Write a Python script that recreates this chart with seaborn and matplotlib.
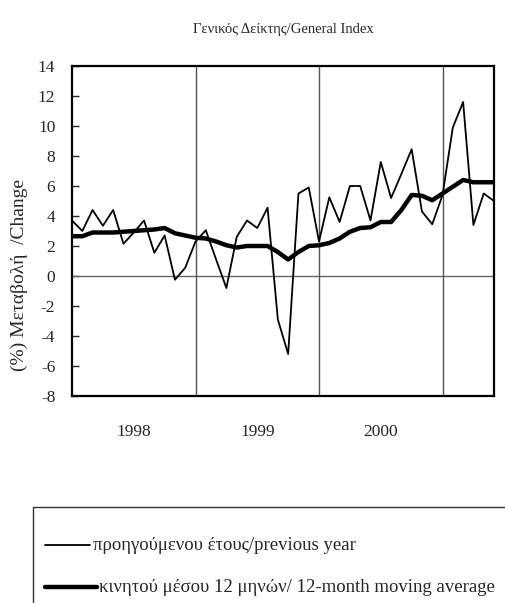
import numpy as np
import pandas as pd
import matplotlib
matplotlib.use("Agg")
import matplotlib.pyplot as plt
import seaborn as sns
from matplotlib.lines import Line2D
from matplotlib.patches import Rectangle

# ---- data (monthly, Jan 1998 - Jun 2001) ----
yoy_change = [3.7, 3.0, 4.4, 3.35, 4.4, 2.15, 2.9, 3.7, 1.55, 2.7, -0.25, 0.55,
              2.3, 3.05, 1.1, -0.8, 2.6, 3.7, 3.2, 4.55, -2.9, -5.2, 5.5, 5.9,
              2.3, 5.25, 3.6, 6.0, 6.0, 3.7, 7.6, 5.2, 6.8, 8.45, 4.3, 3.45,
              5.4, 9.9, 11.6, 3.4, 5.5, 5.0]
moving_avg = [2.65, 2.65, 2.9, 2.9, 2.9, 2.95, 3.0, 3.05, 3.1, 3.2, 2.85, 2.7,
              2.55, 2.5, 2.3, 2.05, 1.9, 2.0, 2.0, 2.0, 1.6, 1.1, 1.6, 2.0,
              2.05, 2.2, 2.5, 2.95, 3.2, 3.25, 3.6, 3.6, 4.4, 5.4, 5.35, 5.05,
              5.5, 5.95, 6.4, 6.25, 6.25, 6.25]
year_labels = ["1998", "1999", "2000"]
year_boundaries = [12, 24, 36]
y_ticks = list(range(-8, 15, 2))

title = "Γενικός Δείκτης/General Index"
ylabel = "(%) Μεταβολή  /Change"
label_yoy = "προηγούμενου έτους/previous year"
label_ma = "κινητού μέσου 12 μηνών/ 12-month moving average"

month_idx = np.arange(len(yoy_change))
df = pd.DataFrame({"month": month_idx, "yoy": yoy_change, "ma": moving_avg})

sns.set_style("white")
plt.rcParams["font.family"] = ["Liberation Serif", "DejaVu Serif"]

W, H = 505, 603
fig = plt.figure(figsize=(W / 100, H / 100), dpi=100)
ax = fig.add_axes([72 / W, 1 - 396 / H, (494 - 72) / W, (396 - 66) / H])

# reference lines
ax.axhline(0, color="#666666", lw=1.0, zorder=1)
for b in year_boundaries:
    ax.axvline(b, color="#555555", lw=1.0, zorder=1)

sns.lineplot(data=df, x="month", y="yoy", ax=ax, color="black", lw=1.3, zorder=3)
sns.lineplot(data=df, x="month", y="ma", ax=ax, color="black", lw=3.2, zorder=4)

ax.set_xlim(0, len(yoy_change) - 1)
ax.set_ylim(-8, 14)
ax.set_yticks(y_ticks)
ax.set_yticklabels([str(t) for t in y_ticks], fontsize=12.5)
ax.set_xticks([6, 18, 30])
ax.set_xticklabels(year_labels, fontsize=12.5)
ax.tick_params(axis="x", length=0, pad=20)
ax.tick_params(axis="y", direction="in", length=5, width=1, pad=12, left=True)
ax.set_xlabel("")
ax.set_ylabel("")
for s in ax.spines.values():
    s.set_color("black")
    s.set_linewidth(1.6)

fig.text(283 / W, 1 - 30 / H, title, ha="center", va="center", fontsize=10.5)
fig.text(19 / W, 1 - 275 / H, ylabel, ha="center", va="center", rotation=90, fontsize=14)

# legend box (partly outside the figure, as in the reference)
fig.add_artist(Rectangle((33 / W, -0.05), 1.0, (1 - 507 / H) + 0.05,
                         transform=fig.transFigure, fill=False,
                         edgecolor="#333333", lw=1.0))
fig.add_artist(Line2D([45 / W, 90 / W], [1 - 545 / H] * 2, transform=fig.transFigure,
                      color="black", lw=1.3))
fig.text(93 / W, 1 - 545 / H, label_yoy, ha="left", va="center", fontsize=13.5)
fig.add_artist(Line2D([45 / W, 97 / W], [1 - 587 / H] * 2, transform=fig.transFigure,
                      color="black", lw=3.2))
fig.text(99 / W, 1 - 587 / H, label_ma, ha="left", va="center", fontsize=13.5)

fig.savefig("out.png", dpi=100)
